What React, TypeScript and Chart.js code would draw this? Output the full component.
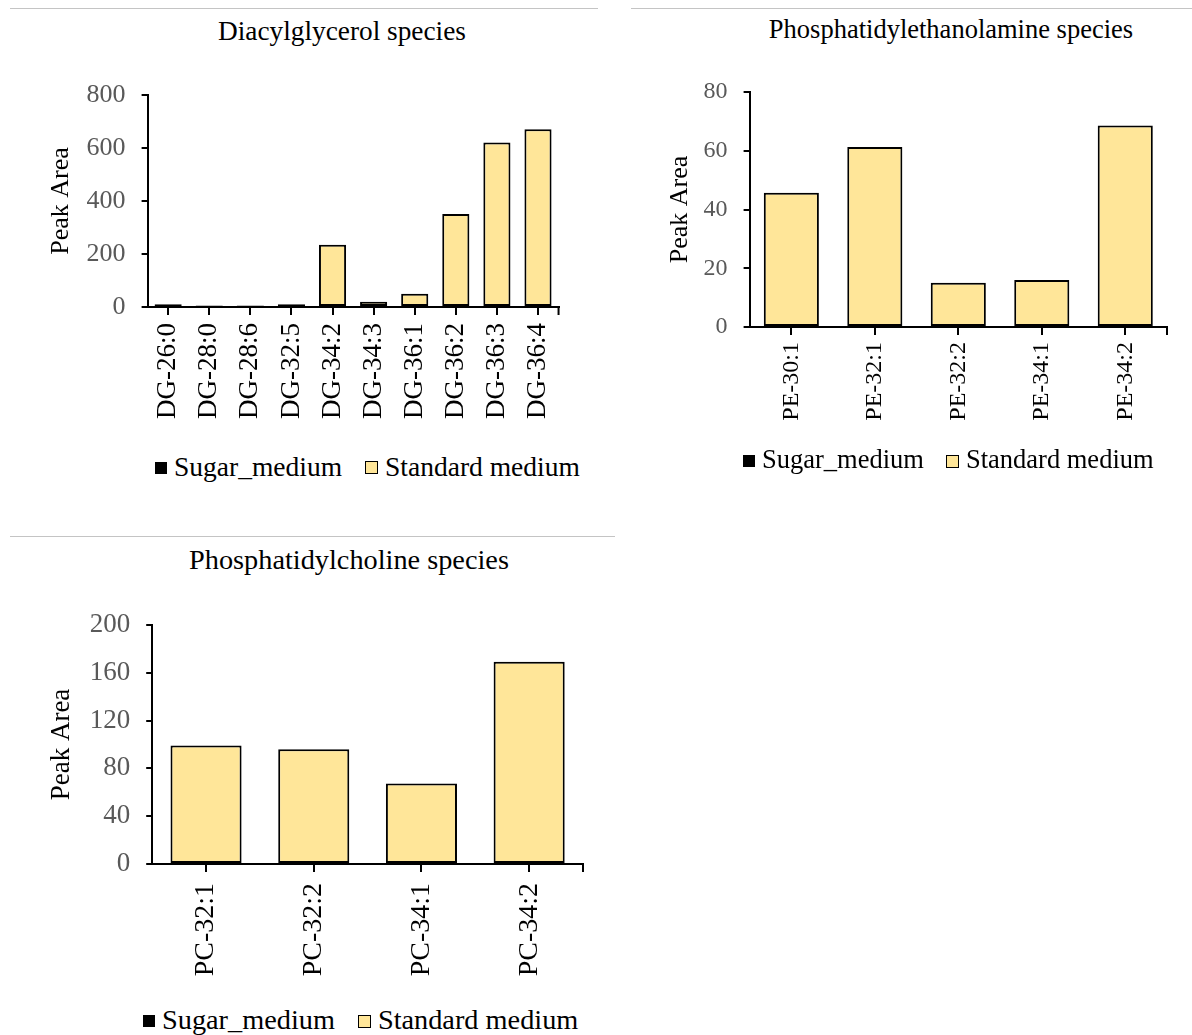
import React, { useEffect, useRef } from 'react';
import { Chart, registerables } from 'chart.js';

Chart.register(...registerables);

const SERIF = "'Liberation Serif', 'Times New Roman', serif";
const SERIES_NAMES = ['Sugar_medium', 'Standard medium'];
const SUGAR_COLOR = '#000000';
const STANDARD_COLOR = '#FFE699';
const TICK_GREY = '#595959';
const Y_TITLE = 'Peak Area';

// Diacylglycerol species
const dgLabels = ['DG-26:0', 'DG-28:0', 'DG-28:6', 'DG-32:5', 'DG-34:2', 'DG-34:3', 'DG-36:1', 'DG-36:2', 'DG-36:3', 'DG-36:4'];
const dgSugar = [0, 0, 0, 0, 0, 0, 0, 0, 0, 0];
const dgStandard = [10, 6, 6, 10, 235, 20, 50, 351, 621, 671];
const dgYTicks = [0, 200, 400, 600, 800];

// Phosphatidylethanolamine species
const peLabels = ['PE-30:1', 'PE-32:1', 'PE-32:2', 'PE-34:1', 'PE-34:2'];
const peSugar = [0, 0, 0, 0, 0];
const peStandard = [45.7, 61.3, 15.1, 16.0, 68.6];
const peYTicks = [0, 20, 40, 60, 80];

// Phosphatidylcholine species
const pcLabels = ['PC-32:1', 'PC-32:2', 'PC-34:1', 'PC-34:2'];
const pcSugar = [0, 0, 0, 0];
const pcStandard = [99.2, 96.1, 67.3, 169.3];
const pcYTicks = [0, 40, 80, 120, 160, 200];

type Geometry = {
  axisLeft: number;
  axisRight: number;
  plotTop: number;
  plotBottom: number;
  yTitleCX: number;
  titleCX: number;
  titleCY: number;
  legendLeft: number;
  legendCY: number;
};

type Fonts = { title: number; yTick: number; yTitle: number; xTick: number; legend: number };

type PanelProps = {
  title: string;
  labels: string[];
  sugar: number[];
  standard: number[];
  yTicks: number[];
  geo: Geometry;
  fonts: Fonts;
  xPad: number;
  legendGap: number;
};

// small tick mark closing the category axis at its right end
const axisEndTick = {
  id: 'axisEndTick',
  afterDraw(chart: any) {
    const { ctx, chartArea } = chart;
    ctx.save();
    ctx.strokeStyle = '#000';
    ctx.lineWidth = 2;
    ctx.beginPath();
    ctx.moveTo(chartArea.right, chartArea.bottom);
    ctx.lineTo(chartArea.right, chartArea.bottom + 8);
    ctx.stroke();
    ctx.restore();
  },
};

function Panel({ title, labels, sugar, standard, yTicks, geo, fonts, xPad, legendGap }: PanelProps) {
  const canvasRef = useRef<HTMLCanvasElement | null>(null);

  const padTop = 40;
  const padRight = 12;
  const xAxisH = 130;
  const yTitleLH = fonts.yTitle * 1.2;
  const left = geo.yTitleCX - yTitleLH / 2;
  const top = geo.plotTop - padTop;
  const width = Math.round(geo.axisRight + padRight - left);
  const height = Math.round(geo.plotBottom - top + xAxisH);

  useEffect(() => {
    const canvas = canvasRef.current;
    if (!canvas) return;
    const chart = new Chart(canvas, {
      type: 'bar',
      data: {
        labels,
        datasets: [
          {
            label: SERIES_NAMES[0],
            data: sugar,
            backgroundColor: SUGAR_COLOR,
            borderColor: SUGAR_COLOR,
            borderWidth: 0,
          },
          {
            label: SERIES_NAMES[1],
            data: standard,
            backgroundColor: STANDARD_COLOR,
            borderColor: '#000000',
            borderWidth: 2,
            borderSkipped: false,
          },
        ],
      },
      options: {
        responsive: false,
        animation: false,
        devicePixelRatio: 1,
        layout: { padding: { top: padTop, right: padRight, left: 0, bottom: 0 } },
        datasets: { bar: { grouped: false, categoryPercentage: 1, barPercentage: 0.66 } },
        plugins: {
          legend: { display: false },
          title: { display: false },
          tooltip: { enabled: false },
        },
        scales: {
          x: {
            grid: {
              display: true,
              drawOnChartArea: false,
              drawTicks: true,
              offset: false,
              tickLength: 8,
              color: '#000',
              lineWidth: 2,
            },
            border: { display: true, color: '#000', width: 2 },
            ticks: {
              autoSkip: false,
              maxRotation: 90,
              minRotation: 90,
              padding: xPad,
              color: '#000',
              font: { family: SERIF, size: fonts.xTick },
            },
            afterFit: (scale: any) => {
              scale.height = xAxisH;
            },
          },
          y: {
            min: yTicks[0],
            max: yTicks[yTicks.length - 1],
            ticks: {
              stepSize: yTicks[1] - yTicks[0],
              color: TICK_GREY,
              padding: 16,
              font: { family: SERIF, size: fonts.yTick },
            },
            grid: {
              drawOnChartArea: false,
              drawTicks: true,
              tickLength: 6,
              color: '#000',
              lineWidth: 2,
            },
            border: { display: true, color: '#000', width: 2 },
            title: {
              display: true,
              text: Y_TITLE,
              color: '#000',
              padding: 0,
              font: { family: SERIF, size: fonts.yTitle },
            },
            afterFit: (scale: any) => {
              scale.width = geo.axisLeft - left;
            },
          },
        },
      },
      plugins: [axisEndTick],
    } as any);
    return () => chart.destroy();
  }, []);

  const titleStyle: React.CSSProperties = {
    position: 'absolute',
    left: geo.titleCX - 300,
    width: 600,
    top: geo.titleCY - fonts.title * 0.6,
    lineHeight: 1.2,
    fontSize: fonts.title,
    fontFamily: SERIF,
    color: '#000',
    textAlign: 'center',
    whiteSpace: 'nowrap',
  };

  const legendStyle: React.CSSProperties = {
    position: 'absolute',
    left: geo.legendLeft,
    top: geo.legendCY - fonts.legend * 0.6,
    height: fonts.legend * 1.2,
    display: 'flex',
    alignItems: 'center',
    fontFamily: SERIF,
    fontSize: fonts.legend,
    lineHeight: 1.2,
    color: '#000',
    whiteSpace: 'nowrap',
  };

  return (
    <>
      <div style={titleStyle}>{title}</div>
      <canvas
        ref={canvasRef}
        width={width}
        height={height}
        style={{ position: 'absolute', left, top, width, height }}
      />
      <div style={legendStyle}>
        <span style={{ display: 'inline-block', width: 12, height: 12, background: SUGAR_COLOR, marginRight: 7, marginTop: 3 }} />
        <span>{SERIES_NAMES[0]}</span>
        <span
          style={{
            display: 'inline-block',
            width: 11,
            height: 11,
            background: STANDARD_COLOR,
            border: '1.5px solid #000',
            marginLeft: legendGap,
            marginRight: 7,
            marginTop: 3,
          }}
        />
        <span>{SERIES_NAMES[1]}</span>
      </div>
    </>
  );
}

const lineStyle = (left: number, top: number, width: number): React.CSSProperties => ({
  position: 'absolute',
  left,
  top,
  width,
  height: 1.5,
  background: '#C4C4C4',
});

export default function App() {
  return (
    <div style={{ position: 'absolute', left: 0, top: 0, width: 1192, height: 1035, background: '#fff', overflow: 'hidden' }}>
      <div style={lineStyle(10, 7.5, 588)} />
      <div style={lineStyle(631, 7.5, 561)} />
      <div style={lineStyle(10, 535.5, 605)} />
      <Panel
        title="Diacylglycerol species"
        labels={dgLabels}
        sugar={dgSugar}
        standard={dgStandard}
        yTicks={dgYTicks}
        geo={{ axisLeft: 148, axisRight: 567, plotTop: 95, plotBottom: 307, yTitleCX: 62, titleCX: 342, titleCY: 31, legendLeft: 155, legendCY: 466 }}
        fonts={{ title: 27.3, yTick: 26, yTitle: 26, xTick: 27, legend: 27.5 }}
        xPad={8}
        legendGap={23}
      />
      <Panel
        title="Phosphatidylethanolamine species"
        labels={peLabels}
        sugar={peSugar}
        standard={peStandard}
        yTicks={peYTicks}
        geo={{ axisLeft: 750, axisRight: 1167, plotTop: 92, plotBottom: 327, yTitleCX: 681, titleCX: 951, titleCY: 30, legendLeft: 743, legendCY: 460 }}
        fonts={{ title: 26.5, yTick: 24, yTitle: 26, xTick: 24, legend: 26.5 }}
        xPad={7}
        legendGap={22}
      />
      <Panel
        title="Phosphatidylcholine species"
        labels={pcLabels}
        sugar={pcSugar}
        standard={pcStandard}
        yTicks={pcYTicks}
        geo={{ axisLeft: 152, axisRight: 583, plotTop: 625, plotBottom: 864, yTitleCX: 62, titleCX: 349, titleCY: 560, legendLeft: 143, legendCY: 1020 }}
        fonts={{ title: 28.3, yTick: 27, yTitle: 27, xTick: 28, legend: 28.3 }}
        xPad={11}
        legendGap={23}
      />
    </div>
  );
}
